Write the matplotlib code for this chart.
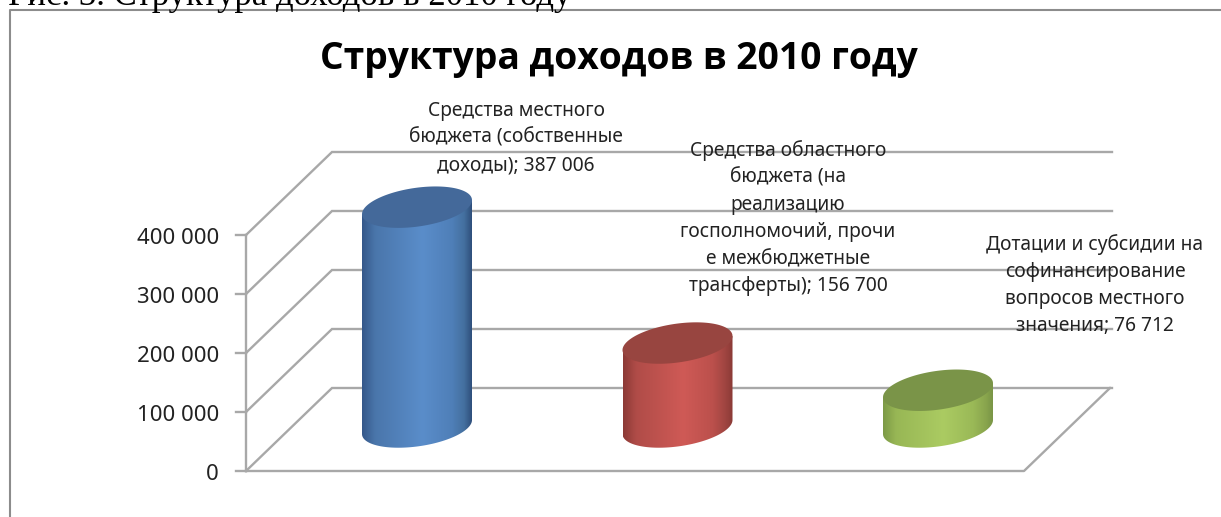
import numpy as np
import matplotlib
matplotlib.use("Agg")
import matplotlib.pyplot as plt
from matplotlib.colors import LinearSegmentedColormap
from matplotlib.lines import Line2D
from matplotlib.patches import Polygon

# ---- data ----
values = [387006, 156700, 76712]
label_names = [
    "Средства местного\nбюджета (собственные\nдоходы)",
    "Средства областного\nбюджета (на\nреализацию\nгосполномочий, прочи\nе межбюджетные\nтрансферты)",
    "Дотации и субсидии на\nсофинансирование\nвопросов местного\nзначения",
]
y_ticks = [0, 100000, 200000, 300000, 400000]
y_tick_labels = ["0", "100 000", "200 000", "300 000", "400 000"]
title = "Структура доходов в 2010 году"
caption = "Рис. 3. Структура доходов в 2010 году"

# ---- layout / style ----
W, H = 1221, 517
PX_PER_VAL = 0.00059
PX_PER_CAT = 260.5
X0_PX, Y0_PX = 417, 471
ddx = 86 / PX_PER_CAT
ddy = 83 / PX_PER_VAL
x_left = (246 - X0_PX) / PX_PER_CAT
floor_len = 778 / PX_PER_CAT
half_w = 55 / PX_PER_CAT
top_lift = (471 - 435.5) / PX_PER_VAL
base_lift = (471 - 427) / PX_PER_VAL
ell_h = 19.5 / PX_PER_VAL
ell_k = 7 / PX_PER_VAL
GRID = "#a8a8a8"

body_stops = [
    ["#35588a", "#4a76ab", "#5a8dca", "#4f7fb8", "#44709f", "#2f4f7c"],
    ["#8c3a36", "#b04c48", "#cf5a56", "#bb504c", "#a04541", "#8a3a36"],
    ["#7d9a47", "#98b755", "#abcb62", "#9ab957", "#8aa64e", "#7a9646"],
]
top_colors = ["#44699a", "#984540", "#7a9448"]
stop_pos = [0, 0.12, 0.55, 0.82, 0.93, 1]

fig = plt.figure(figsize=(W / 100, H / 100), dpi=100)
ax = fig.add_axes([0, 0, 1, 1])
ax.set_axis_off()
xlim = (-X0_PX / PX_PER_CAT, (W - X0_PX) / PX_PER_CAT)
ylim = ((Y0_PX - H) / PX_PER_VAL, Y0_PX / PX_PER_VAL)

# gridlines, wall and floor
for v in y_ticks:
    ax.plot([x_left, x_left + ddx, x_left + ddx + floor_len + 2 / PX_PER_CAT],
            [v, v + ddy, v + ddy], color=GRID, lw=1.7, zorder=1, solid_joinstyle="miter")
    ax.plot([x_left - 10 / PX_PER_CAT, x_left], [v, v], color=GRID, lw=1.7, zorder=1)
ax.plot([x_left, x_left], [0, y_ticks[-1]], color=GRID, lw=1.7, zorder=1)
ax.plot([x_left, x_left + floor_len, x_left + floor_len + ddx],
        [0, 0, ddy], color=GRID, lw=1.7, zorder=1)

for i, lab in enumerate(y_tick_labels):
    ax.text(x_left - 27 / PX_PER_CAT, y_ticks[i] - 3.5 / PX_PER_VAL, lab, ha="right", va="center",
            family="Noto Sans", fontsize=16, color="#222222", zorder=3)

# cylinders
t = np.linspace(0, 2 * np.pi, 181)
for i, v in enumerate(values):
    top_y = v + top_lift
    ex = half_w * np.cos(t)
    ey = ell_h * np.sin(t) + ell_k * np.cos(t)
    lower = t >= np.pi
    order = np.argsort(t[lower])
    bx = i + ex[lower][order]
    by = base_lift + ey[lower][order]
    body_xy = np.vstack([
        np.column_stack([bx, by]),
        [[i + half_w, top_y + ell_k], [i - half_w, top_y - ell_k]],
    ])
    cmap = LinearSegmentedColormap.from_list(f"c{i}", list(zip(stop_pos, body_stops[i])))
    im = ax.imshow(np.linspace(0, 1, 256)[None, :], cmap=cmap, aspect="auto", zorder=2,
                   extent=(i - half_w, i + half_w, 0, top_y + ell_h * 2),
                   interpolation="bilinear")
    clip = Polygon(body_xy, closed=True, facecolor="none", edgecolor="none",
                   transform=ax.transData)
    ax.add_patch(clip)
    im.set_clip_path(clip)
    ax.add_patch(Polygon(np.column_stack([i + ex, top_y + ey]), closed=True,
                         facecolor=top_colors[i], edgecolor="none", zorder=2.5))

# data labels
label_x_px = [516, 788, 1095]
label_y_px = [138, 218, 285]
for i, (name, v) in enumerate(zip(label_names, values)):
    value_text = f"{v:,}".replace(",", " ")
    s = f"{name}; {value_text}"
    ax.text((label_x_px[i] - X0_PX) / PX_PER_CAT, (Y0_PX - label_y_px[i]) / PX_PER_VAL, s,
            ha="center", va="center", multialignment="center", family="Noto Sans",
            fontsize=13.8, linespacing=1.47, color="#222222", zorder=4)

ax.set_xlim(xlim)
ax.set_ylim(ylim)

# title, caption, outer frame
fig.text(619 / W, 1 - 59 / H, title, ha="center", va="center", family="Open Sans",
         fontweight="bold", fontsize=26.8, color="black")
fig.text(8 / W, 1 - 5 / H, caption, ha="left", va="baseline", family="Liberation Serif",
         fontsize=25, color="black")
fig.add_artist(Line2D([10 / W, 10 / W, 1], [0, 1 - 10 / H, 1 - 10 / H], color="#8c8c8c", lw=1.5))

fig.savefig("out.png", dpi=100)
